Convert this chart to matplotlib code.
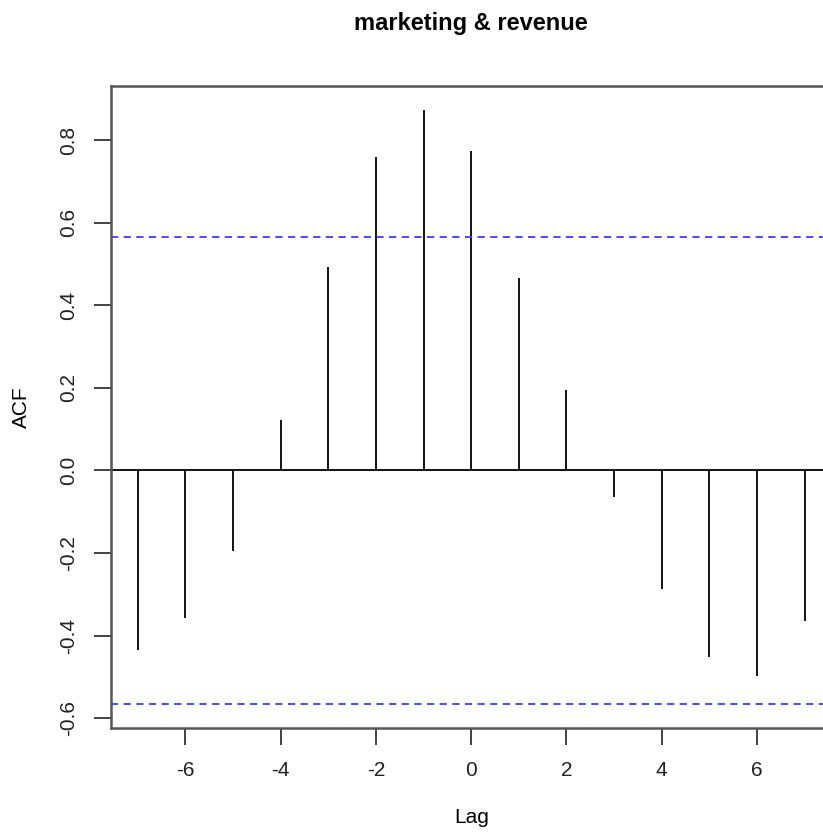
import numpy as np
import matplotlib.pyplot as plt

plt.rcParams['font.family'] = ['Liberation Sans', 'DejaVu Sans']
plt.rcParams['axes.unicode_minus'] = False

lags = [-7, -6, -5, -4, -3, -2, -1, 0, 1, 2, 3, 4, 5, 6, 7]
acf = [-0.434, -0.356, -0.194, 0.121, 0.492, 0.759, 0.873, 0.773,
       0.465, 0.194, -0.065, -0.286, -0.451, -0.497, -0.364]
clim = 0.5658

fig = plt.figure(figsize=(8.23, 8.32), dpi=100)
ax = fig.add_axes([0.1349, 0.125, 0.8753, 0.7716])

ax.vlines(lags, 0, acf, color='black', lw=1.3)
ax.axhline(0, color='black', lw=1.3)
ax.axhline(clim, color='#3b3bff', ls=(0, (4, 3)), lw=1.3)
ax.axhline(-clim, color='#3b3bff', ls=(0, (4, 3)), lw=1.3)

# R-style 4% padding on both axes
xr = max(lags) - min(lags)
ax.set_xlim(min(lags) - 0.04 * xr, max(lags) + 0.04 * xr)
ymin, ymax = min(min(acf), -clim), max(max(acf), clim)
yr = ymax - ymin
ax.set_ylim(ymin - 0.04 * yr, ymax + 0.04 * yr)

ax.set_xticks([-6, -4, -2, 0, 2, 4, 6])
ax.set_yticks(np.arange(-0.6, 0.81, 0.2))
ax.set_yticklabels([f'{v:.1f}' for v in np.arange(-0.6, 0.81, 0.2)],
                   rotation=90, va='center')
ax.tick_params(direction='out', length=12, width=1.2, labelsize=15,
               pad=12, colors='#222222')
for s in ax.spines.values():
    s.set_linewidth(1.8)
    s.set_color('#555555')

ax.set_xlabel('Lag', fontsize=15, labelpad=20)
ax.set_ylabel('ACF', fontsize=15, labelpad=20)
fig.text(0.5723, 0.972, 'marketing & revenue', ha='center', va='center',
         fontsize=17, fontweight='bold')

fig.savefig('out.png', dpi=100)
